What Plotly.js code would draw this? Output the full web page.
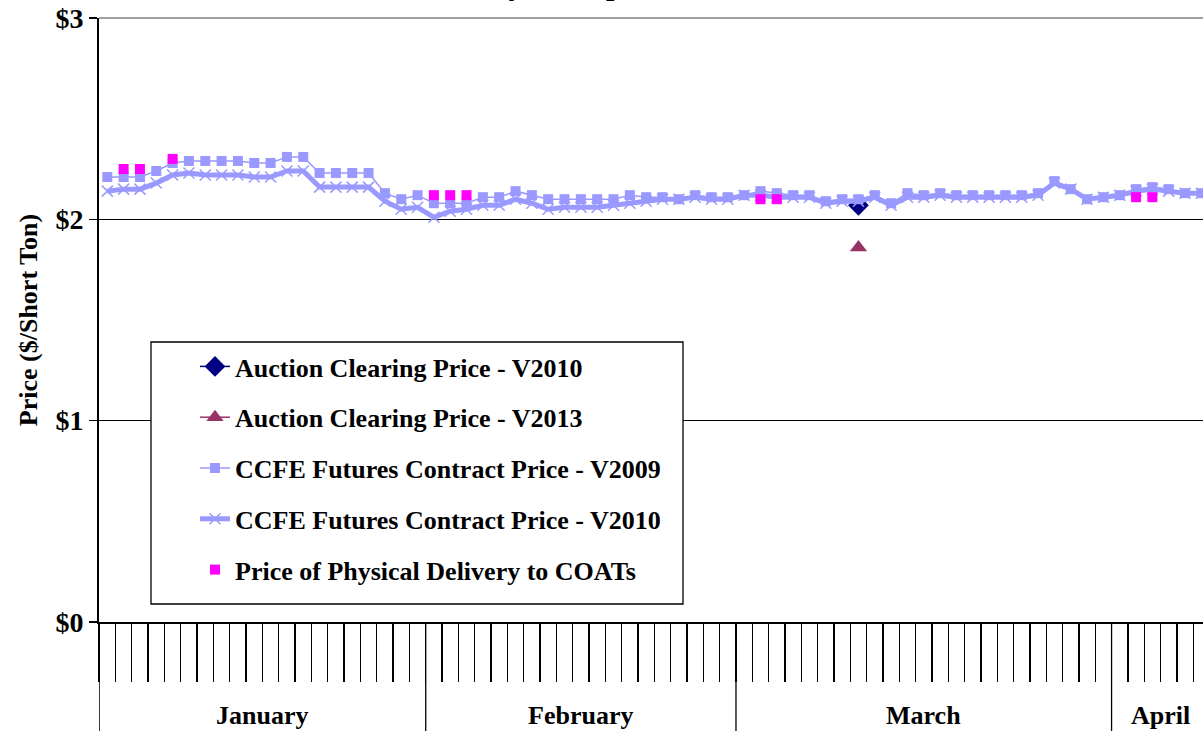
<!DOCTYPE html>
<html>
<head>
<meta charset="utf-8">
<script src="https://cdn.plot.ly/plotly-3.0.1.min.js"></script>
<style>html,body{margin:0;padding:0;background:#fff;overflow:hidden}#chart{width:1203px;height:731px}</style>
</head>
<body>
<div id="chart"></div>
<script>
// ---- data ----
const monthNames = ['January', 'February', 'March', 'April'];
const monthDays = [20, 19, 23, 6];
const categories = [];
monthNames.forEach((m, i) => { for (let d = 1; d <= monthDays[i]; d++) categories.push(m + ' ' + d); });

const ccfeV2009 = [2.21,2.21,2.21,2.24,2.28,2.29,2.29,2.29,2.29,2.28,2.28,2.31,2.31,2.23,2.23,2.23,2.23,2.13,2.10,2.12,
  2.08,2.08,2.08,2.11,2.11,2.14,2.12,2.10,2.10,2.10,2.10,2.10,2.12,2.11,2.11,2.10,2.12,2.11,2.11,
  2.12,2.14,2.13,2.12,2.12,2.09,2.10,2.10,2.12,2.08,2.13,2.12,2.13,2.12,2.12,2.12,2.12,2.12,2.13,2.19,2.15,2.10,2.11,
  2.12,2.15,2.16,2.15,2.13,2.13];
const ccfeV2010 = [2.14,2.15,2.15,2.18,2.22,2.23,2.22,2.22,2.22,2.21,2.21,2.24,2.24,2.16,2.16,2.16,2.16,2.09,2.05,2.06,
  2.01,2.04,2.05,2.07,2.07,2.10,2.08,2.05,2.06,2.06,2.06,2.07,2.08,2.09,2.10,2.10,2.11,2.10,2.10,
  2.12,2.12,2.11,2.11,2.11,2.08,2.09,2.09,2.11,2.07,2.11,2.11,2.12,2.11,2.11,2.11,2.11,2.11,2.12,2.18,2.15,2.10,2.11,
  2.12,2.14,2.15,2.14,2.13,2.13];
const physical = [null,2.25,2.25,null,2.30,null,null,null,null,null,null,null,null,null,null,null,null,null,null,null,
  2.12,2.12,2.12,null,null,null,null,null,null,null,null,null,null,null,null,null,null,null,null,
  null,2.10,2.10,null,null,null,null,null,null,null,null,null,null,null,null,null,null,null,null,null,null,null,null,
  null,2.11,2.11,null,null,null];
const auctionDate = ['March 8'];
const auctionV2010 = [2.07];
const auctionV2013 = [1.86];
const yTickVals = [0, 1, 2, 3];
const yTickText = ['$0', '$1', '$2', '$3'];
const chartTitle = 'RGGI Allowance Prices from January 4 to April 3, 2010';
const yTitle = 'Price ($/Short Ton)';

// ---- chart ----
const FONT = 'Liberation Serif, Times New Roman, serif';
const LEG_FONT = {family: FONT, size: 26, color: '#000', weight: 'bold'};

const traces = [
  {name: 'Auction Clearing Price - V2010', x: auctionDate, y: auctionV2010, type: 'scatter', mode: 'lines+markers',
   line: {color: '#000080', width: 1.5}, marker: {symbol: 'diamond', size: 16, color: '#000080'}, legendgroup: 'a'},
  {name: 'Auction Clearing Price - V2013', x: auctionDate, y: auctionV2013, type: 'scatter', mode: 'lines+markers',
   line: {color: '#993366', width: 1.5}, marker: {symbol: 'triangle-up', size: 15, color: '#993366'}, legendgroup: 'b'},
  {name: 'CCFE Futures Contract Price - V2009', x: categories, y: ccfeV2009, type: 'scatter', mode: 'lines+markers',
   line: {color: '#9999FF', width: 1.5}, marker: {symbol: 'square', size: 10, color: '#9999FF'}, legendgroup: 'c'},
  {name: 'CCFE Futures Contract Price - V2010', x: categories, y: ccfeV2010, type: 'scatter', mode: 'lines+markers',
   line: {color: '#9999FF', width: 5}, marker: {symbol: 'x-thin', size: 11, color: '#9999FF', line: {color: '#9999FF', width: 1.5}}, legendgroup: 'd'},
  {name: 'Price of Physical Delivery to COATs', x: categories, y: physical, type: 'scatter', mode: 'markers',
   marker: {symbol: 'square', size: 10, color: '#FF00FF'}, legendgroup: 'e'}
];

const L = 99, T = 18, W = 1104, H = 604;
const px = v => (v - L) / W;
const py = v => (T + H - v) / H;

const shapes = [];
let cum = 0;
const bounds = [-0.5];
monthDays.forEach(n => { cum += n; bounds.push(cum - 0.5); });
bounds.slice(0, 4).forEach(b => shapes.push({type: 'line', xref: 'x', yref: 'paper', x0: b, x1: b, y0: 0, y1: py(731),
  line: {color: '#000', width: 1.3}}));
// top border
shapes.push({type: 'line', xref: 'paper', yref: 'paper', x0: 0, x1: 1, y0: 1, y1: 1, line: {color: '#808080', width: 1.5}});
// legend box (opaque, covers the grid line behind it)
shapes.push({type: 'rect', xref: 'paper', yref: 'paper', x0: px(151), x1: px(683), y0: py(604), y1: py(342),
  line: {color: '#000', width: 1.3}, fillcolor: '#fff', layer: 'above'});

const annotations = [];
let start = 0;
monthNames.forEach((m, i) => {
  annotations.push({text: m, xref: 'x', yref: 'paper', x: start + (monthDays[i] - 1) / 2, y: py(715),
    showarrow: false, yanchor: 'middle', xanchor: 'center', borderpad: 0, font: {family: FONT, size: 26, color: '#000', weight: 'bold'}});
  start += monthDays[i];
});
annotations.push({text: chartTitle, xref: 'paper', yref: 'paper', x: px(32), y: py(3), xanchor: 'left', yanchor: 'bottom',
  showarrow: false, font: {family: FONT, size: 30, color: '#000', weight: 'bold'}});

const layout = {
  width: 1203, height: 731,
  margin: {l: L, r: 0, t: T, b: 731 - T - H, pad: 0},
  paper_bgcolor: '#fff', plot_bgcolor: 'rgba(0,0,0,0)',
  showlegend: true,
  legend: {x: px(195), y: py(343), xanchor: 'left', yanchor: 'top', bgcolor: 'rgba(0,0,0,0)', borderwidth: 0,
    font: LEG_FONT, traceorder: 'grouped', tracegroupgap: 14},
  xaxis: {type: 'category', categoryorder: 'array', categoryarray: categories, range: [-0.508, 67.1],
    showgrid: false, zeroline: false, showline: true, linecolor: '#000', linewidth: 2,
    ticks: 'outside', tickson: 'boundaries', ticklen: 58, tickwidth: 1.3, tickcolor: '#000', showticklabels: false},
  yaxis: {range: [0, 3], tickmode: 'array', tickvals: yTickVals, ticktext: yTickText, showgrid: true, gridcolor: '#000', gridwidth: 1.3,
    zeroline: false, showline: true, linecolor: '#000', linewidth: 2, ticks: 'outside', ticklen: 8, tickcolor: '#000', tickwidth: 1.3,
    tickfont: {family: FONT, size: 28, color: '#000', weight: 'bold'},
    title: {text: yTitle, font: {family: FONT, size: 26, color: '#000', weight: 'bold'}, standoff: 10}},
  shapes, annotations
};

Plotly.newPlot('chart', traces, layout, {displayModeBar: false, staticPlot: true});
</script>
</body>
</html>
